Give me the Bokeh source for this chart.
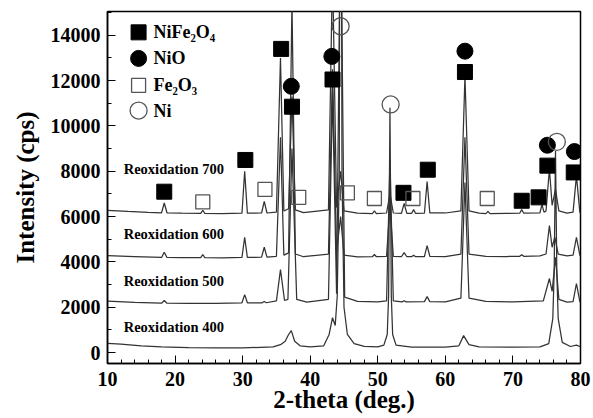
from bokeh.plotting import figure
from bokeh.models import Range1d, FixedTicker
from bokeh.core.properties import value
from bokeh.embed import file_html
from bokeh.resources import INLINE

# ---- data: (2-theta, counts) vertices of each pattern ----
pattern_700 = [(10.0, 6280), (13.0, 6230), (16.0, 6190), (18.0, 6170), (18.4, 6600), (18.8, 6170),
               (21.0, 6150), (23.8, 6140), (24.1, 6280), (24.4, 6140), (27.0, 6130), (29.9, 6150),
               (30.3, 8000), (30.7, 6150), (32.8, 6160), (33.2, 6670), (33.6, 6160), (35.0, 6200),
               (35.6, 13000), (36.1, 6250), (36.8, 6350), (37.3, 11300), (37.8, 6300), (39.0, 6180),
               (42.7, 6300), (43.3, 17000), (43.9, 6400), (44.5, 8000), (45.0, 6250), (47.0, 6150),
               (49.2, 6130), (49.5, 6250), (49.8, 6130), (51.3, 6160), (51.8, 7000), (52.3, 6160),
               (53.5, 6140), (53.9, 6580), (54.3, 6140), (55.0, 6140), (55.3, 6310), (55.6, 6140),
               (56.9, 6150), (57.3, 7550), (57.7, 6160), (60.0, 6160), (62.3, 6250), (62.9, 12200),
               (63.5, 6250), (65.0, 6150), (66.0, 6130), (66.3, 6230), (66.6, 6130), (69.0, 6140),
               (71.0, 6150), (71.3, 6310), (71.6, 6150), (74.0, 6170), (74.3, 6530), (74.6, 6200),
               (74.9, 6250), (75.4, 8100), (75.8, 6500), (76.3, 7200), (76.8, 6250), (78.0, 6150),
               (78.9, 6200), (79.4, 7800), (79.9, 6200), (80.0, 6150)]

pattern_600 = [(10.0, 4280), (14.0, 4240), (18.0, 4200), (18.4, 4430), (18.8, 4200), (21.0, 4190),
               (23.8, 4190), (24.1, 4330), (24.4, 4190), (27.0, 4180), (29.9, 4200), (30.3, 5090),
               (30.7, 4200), (32.8, 4210), (33.2, 4650), (33.6, 4210), (35.0, 4250), (35.6, 9500),
               (36.1, 4300), (36.8, 4400), (37.3, 15500), (37.8, 4350), (39.0, 4230), (42.7, 4350),
               (43.3, 12500), (43.9, 4450), (44.5, 6000), (45.0, 4300), (47.0, 4220), (49.2, 4230),
               (49.5, 4330), (49.8, 4230), (51.3, 4250), (51.8, 6500), (52.3, 4250), (53.5, 4230),
               (53.9, 4410), (54.3, 4230), (55.0, 4230), (55.3, 4300), (55.6, 4230), (56.9, 4240),
               (57.3, 4720), (57.7, 4250), (60.0, 4240), (62.3, 4350), (62.9, 9500), (63.5, 4350),
               (66.0, 4250), (69.0, 4240), (71.0, 4250), (71.3, 4320), (71.6, 4250), (74.0, 4270),
               (74.9, 4350), (75.4, 5600), (75.8, 4650), (76.2, 5100), (76.7, 4350), (78.0, 4270),
               (78.9, 4300), (79.4, 5080), (79.9, 4300), (80.0, 4280)]

pattern_500 = [(10.0, 2270), (14.0, 2220), (18.0, 2180), (18.4, 2300), (18.8, 2180), (22.0, 2170),
               (26.0, 2170), (29.9, 2200), (30.3, 2560), (30.7, 2200), (32.9, 2200), (33.2, 2260),
               (33.5, 2200), (35.0, 2280), (35.6, 3660), (36.2, 2300), (36.7, 2350), (37.3, 9000),
               (38.0, 2350), (39.5, 2230), (42.7, 2350), (43.3, 11500), (43.9, 2600), (44.5, 20000),
               (45.1, 2450), (47.0, 2260), (50.0, 2240), (51.3, 2280), (51.8, 8500), (52.3, 2280),
               (53.6, 2240), (53.9, 2290), (54.2, 2240), (56.9, 2250), (57.3, 2470), (57.7, 2250),
               (60.0, 2240), (62.3, 2400), (62.9, 7500), (63.5, 2400), (66.0, 2260), (70.0, 2240),
               (74.5, 2280), (75.4, 3270), (75.8, 2700), (76.3, 4200), (76.8, 2350), (78.0, 2230),
               (78.9, 2250), (79.4, 3050), (79.9, 2250), (80.0, 2230)]

pattern_400 = [(10.0, 410), (12.0, 370), (15.0, 300), (18.0, 250), (22.0, 220), (26.0, 210),
               (30.0, 210), (34.5, 250), (35.6, 350), (36.3, 500), (36.8, 800), (37.2, 970),
               (37.7, 500), (38.5, 300), (40.0, 250), (42.0, 300), (42.8, 800), (43.3, 1540),
               (43.7, 1200), (44.0, 2500), (44.3, 8000), (44.5, 40000), (44.7, 8000), (45.0, 2000),
               (45.5, 800), (46.5, 400), (48.0, 280), (50.0, 250), (50.9, 330), (51.4, 800),
               (51.6, 2500), (51.8, 10800), (52.0, 2500), (52.2, 800), (52.7, 330), (55.0, 240),
               (60.0, 240), (62.0, 300), (62.7, 750), (63.5, 350), (65.0, 250), (70.0, 240),
               (74.0, 250), (75.3, 400), (75.9, 1500), (76.1, 3500), (76.3, 8900), (76.5, 3500),
               (76.7, 1500), (77.3, 450), (78.5, 270), (79.4, 330), (80.0, 260)]

# phase markers
nife_x = [18.4, 30.4, 35.7, 37.3, 43.3, 53.8, 57.4, 62.9, 71.3, 73.8, 75.1, 79.0]
nife_y = [7100, 8500, 13400, 10850, 12050, 7050, 8070, 12380, 6700, 6850, 8250, 7950]
nio_x = [37.2, 43.2, 62.9, 75.1, 79.1]
nio_y = [11750, 13070, 13300, 9150, 8870]
fe2o3_x = [24.1, 33.3, 38.3, 45.5, 49.5, 55.2, 66.2]
fe2o3_y = [6650, 7200, 6850, 7050, 6800, 6800, 6800]
ni_x = [44.5, 51.9, 76.5]
ni_y = [14400, 10950, 9300]

phase_names = ["NiFe₂O₄", "NiO", "Fe₂O₃", "Ni"]
sample_names = ["Reoxidation 700", "Reoxidation 600", "Reoxidation 500", "Reoxidation 400"]

x_ticks = [10, 20, 30, 40, 50, 60, 70, 80]
y_ticks = [0, 2000, 4000, 6000, 8000, 10000, 12000, 14000]

# ---- figure ----
SERIF = "Liberation Serif"
p = figure(width=593, height=418, output_backend="svg", toolbar_location=None,
           x_range=Range1d(10, 80), y_range=Range1d(-480, 15050),
           min_border_left=107, min_border_right=13, min_border_top=11, min_border_bottom=55)
p.xgrid.visible = False
p.ygrid.visible = False
p.outline_line_color = "black"
p.outline_line_width = 1.5
p.background_fill_color = "white"
p.border_fill_color = "white"

p.xaxis.ticker = FixedTicker(ticks=x_ticks, minor_ticks=list(range(10, 81, 2)))
p.yaxis.ticker = FixedTicker(ticks=y_ticks, minor_ticks=list(range(0, 15001, 1000)))
for ax in (p.xaxis, p.yaxis):
    ax.major_tick_in = 8
    ax.major_tick_out = 0
    ax.minor_tick_in = 4
    ax.minor_tick_out = 0
    ax.axis_line_width = 1.5
    ax.axis_line_color = "black"
    ax.major_tick_line_color = "black"
    ax.minor_tick_line_color = "black"
    ax.major_label_text_font = SERIF
    ax.major_label_text_font_style = "bold"
    ax.major_label_text_font_size = "20px"
    ax.major_label_text_color = "black"
    ax.axis_label_text_font = SERIF
    ax.axis_label_text_font_style = "bold"
    ax.axis_label_text_font_size = "25px"
    ax.axis_label_text_color = "black"

p.xaxis.axis_label = "2-theta (deg.)"
p.yaxis.axis_label = "Intensity (cps)"
p.xaxis.major_label_standoff = 8
p.xaxis.axis_label_standoff = -3
p.yaxis.major_label_standoff = 7
p.yaxis.axis_label_standoff = 9

for pat in (pattern_400, pattern_500, pattern_600, pattern_700):
    xs, ys = zip(*pat)
    p.line(list(xs), list(ys), line_color="#333333", line_width=1.25)

p.scatter(nife_x, nife_y, marker="square", size=15, fill_color="black", line_color="black")
p.scatter(nio_x, nio_y, marker="circle", size=16, fill_color="black", line_color="black")
p.scatter(fe2o3_x, fe2o3_y, marker="square", size=14, fill_alpha=0, line_color="#555555", line_width=1.3)
p.scatter(ni_x, ni_y, marker="circle", size=17, fill_alpha=0, line_color="#555555", line_width=1.3)

# ---- manual legend (layout positions) ----
leg_x = 14.6
leg_tx = 16.8
leg_y = [14130, 12980, 11790, 10680]
p.scatter([leg_x], [leg_y[0]], marker="square", size=15, fill_color="black", line_color="black")
p.scatter([leg_x], [leg_y[1]], marker="circle", size=16, fill_color="black", line_color="black")
p.scatter([leg_x], [leg_y[2]], marker="square", size=14, fill_alpha=0, line_color="#555555", line_width=1.3)
p.scatter([leg_x], [leg_y[3]], marker="circle", size=17, fill_alpha=0, line_color="#555555", line_width=1.3)
p.text([leg_tx] * 4, leg_y, text=phase_names, text_font=value(SERIF), text_font_style="bold",
       text_font_size="18px", text_baseline="middle", text_align="left", text_color="black")

# ---- sample labels ----
p.text([12.4] * 4, [8120, 5250, 3150, 1150], text=sample_names, text_font=value(SERIF),
       text_font_style="bold", text_font_size="14.5px", text_baseline="middle",
       text_align="left", text_color="black")

open("out.html", "w").write(file_html(p, INLINE))
